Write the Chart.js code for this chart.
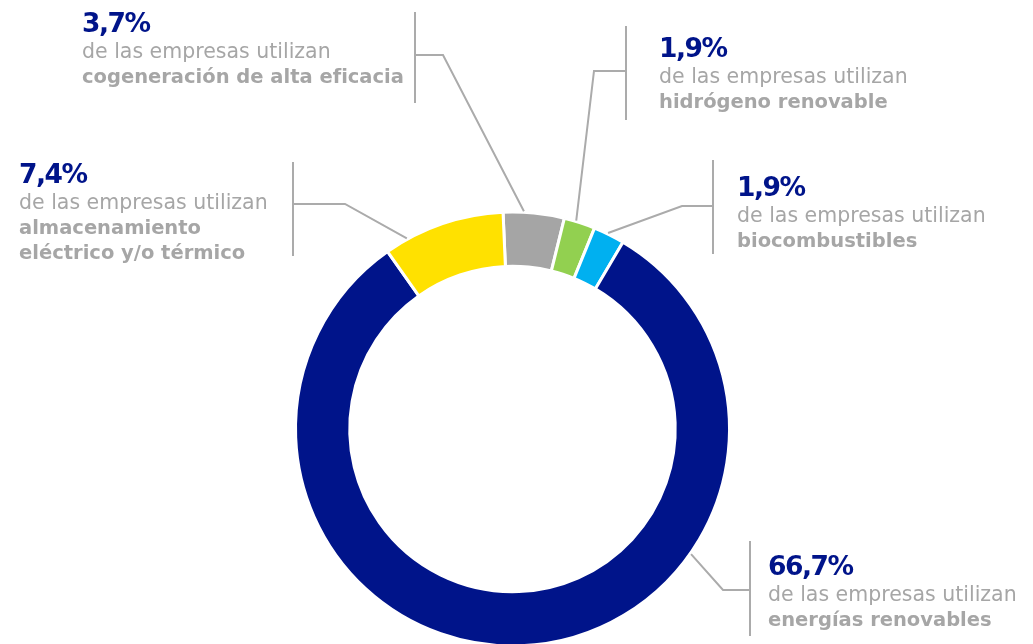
<!DOCTYPE html>
<html lang="es">
<head>
<meta charset="utf-8">
<title>Tecnologías utilizadas por las empresas</title>
<script src="https://cdn.jsdelivr.net/npm/chart.js@4.4.1/dist/chart.umd.min.js"></script>
<style>
  html, body { margin: 0; padding: 0; background: #fff; overflow: hidden; }
  #chartBox { width: 1033px; height: 650px; }
</style>
</head>
<body>
<div id="chartBox"><canvas id="donutChart" width="1033" height="650"></canvas></div>
<script>
// data, clockwise from the top
const categories = [
  ['cogeneración de alta eficacia'],
  ['hidrógeno renovable'],
  ['biocombustibles'],
  ['energías renovables'],
  ['almacenamiento', 'eléctrico y/o térmico']
];
const shares = [3.7, 1.9, 1.9, 66.7, 7.4];
const sliceColors = ['#a5a5a5', '#92d050', '#00b0f0', '#00148a', '#ffe100'];
const subtitle = 'de las empresas utilizan';

// callout placement (angle in degrees from 12 o'clock, where the leader touches the ring)
const callouts = [
  { angle: 3,   textX: 82,  textY: 31.5, barX: 415, barTop: 12,  barBottom: 103, elbowX: 443, elbowY: 55 },
  { angle: 17,  textX: 659, textY: 57,   barX: 626, barTop: 26,  barBottom: 120, elbowX: 594, elbowY: 71 },
  { angle: 26,  textX: 737, textY: 196,  barX: 713, barTop: 160, barBottom: 254, elbowX: 682, elbowY: 206 },
  { angle: 125, textX: 768, textY: 575,  barX: 750, barTop: 541, barBottom: 636, elbowX: 723, elbowY: 590 },
  { angle: -29, textX: 19,  textY: 183,  barX: 293, barTop: 162, barBottom: 256, elbowX: 345, elbowY: 204 }
];

const FONT = '"DejaVu Sans", sans-serif';
const NAVY = '#00148a';
const GREY_TEXT = '#a6a6a6';
const GREY_LINE = '#ababab';

function pct(v) {
  return v.toFixed(1).replace('.', ',') + '%';
}

const calloutPlugin = {
  id: 'callouts',
  afterDraw(chart) {
    const ctx = chart.ctx;
    const meta = chart.getDatasetMeta(0);
    ctx.save();
    meta.data.forEach((arc, i) => {
      const c = callouts[i];
      const { x, y, outerRadius } = arc.getProps(['x', 'y', 'outerRadius'], true);
      const a = (c.angle - 90) * Math.PI / 180;
      const ax = x + Math.cos(a) * (outerRadius + 1);
      const ay = y + Math.sin(a) * (outerRadius + 1);

      ctx.strokeStyle = GREY_LINE;
      ctx.lineWidth = 2;
      ctx.beginPath();
      ctx.moveTo(ax, ay);
      ctx.lineTo(c.elbowX, c.elbowY);
      ctx.lineTo(c.barX, c.elbowY);
      ctx.stroke();
      ctx.beginPath();
      ctx.moveTo(c.barX, c.barTop);
      ctx.lineTo(c.barX, c.barBottom);
      ctx.stroke();

      ctx.textAlign = 'left';
      ctx.textBaseline = 'alphabetic';
      ctx.fillStyle = NAVY;
      ctx.font = 'bold 26.5px ' + FONT;
      ctx.letterSpacing = '-1.5px';
      ctx.fillText(pct(shares[i]), c.textX, c.textY);
      ctx.letterSpacing = '0px';

      ctx.fillStyle = GREY_TEXT;
      ctx.font = '20.5px ' + FONT;
      ctx.fillText(subtitle, c.textX, c.textY + 26);
      ctx.font = 'bold 19.5px ' + FONT;
      categories[i].forEach((line, k) => {
        ctx.fillText(line, c.textX, c.textY + 51 + k * 25);
      });
    });
    ctx.restore();
  }
};

new Chart(document.getElementById('donutChart').getContext('2d'), {
  type: 'doughnut',
  data: {
    labels: categories.map(l => l.join(' ')),
    datasets: [{
      data: shares,
      backgroundColor: sliceColors,
      borderColor: '#ffffff',
      borderWidth: 3,
      hoverOffset: 0
    }]
  },
  options: {
    responsive: false,
    animation: false,
    cutout: '75%',
    rotation: -2.5,
    layout: { padding: { left: 294, right: 302, top: 210.5, bottom: 2.5 } },
    plugins: { legend: { display: false }, tooltip: { enabled: false } }
  },
  plugins: [calloutPlugin]
});
</script>
</body>
</html>
